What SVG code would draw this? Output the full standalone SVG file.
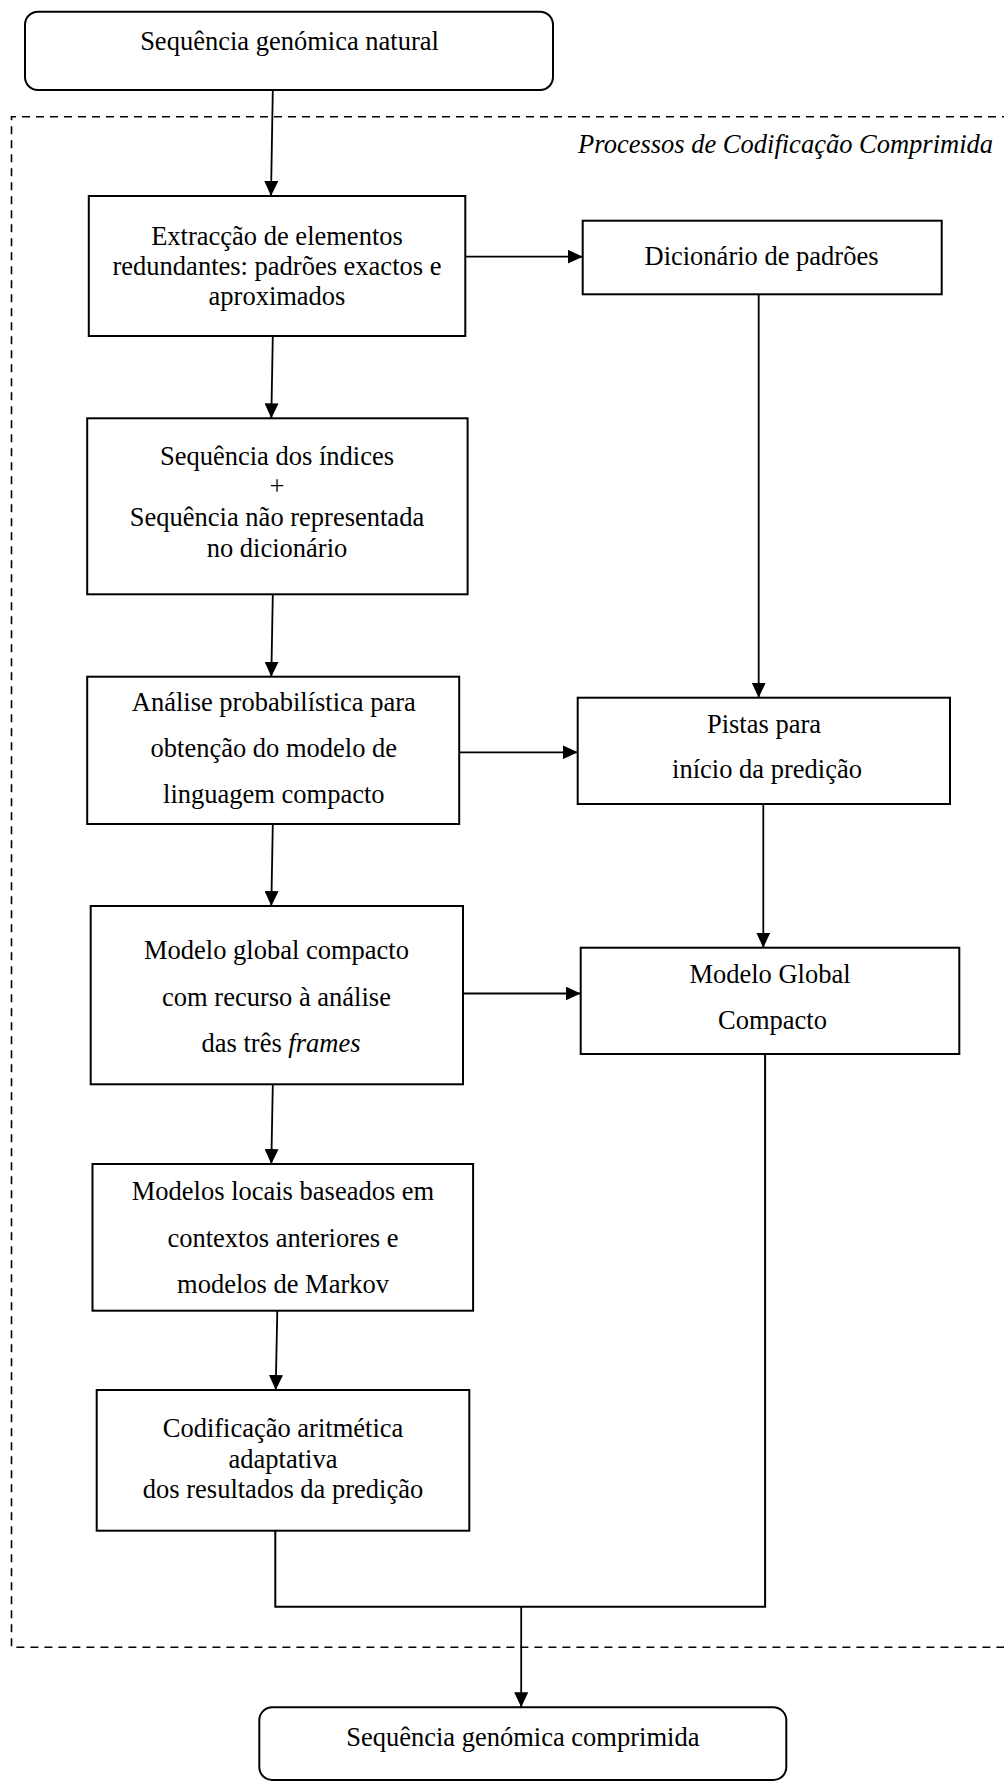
<svg xmlns="http://www.w3.org/2000/svg" width="1004" height="1782" viewBox="0 0 1004 1782">
<style>
  .box { fill: #fff; stroke: #000; stroke-width: 2; }
  .t { font-family: "Liberation Serif", "Times New Roman", serif; font-size: 26.5px; fill: #000; text-anchor: middle; }
  .it { font-style: italic; }
  .c { fill: none; stroke: #000; stroke-width: 1.8; }
  .dash { fill: none; stroke: #000; stroke-width: 1.6; stroke-dasharray: 8 6; }
</style>
<defs>
  <marker id="arr" markerUnits="userSpaceOnUse" markerWidth="15" markerHeight="14" refX="15" refY="7" orient="auto">
    <path d="M0,0 L15,7 L0,14 z" fill="#000"/>
  </marker>
</defs>
<rect width="1004" height="1782" fill="#fff"/>

<g id="group-processos">
  <path class="dash" d="M1010,116.7 H11.5 V1647.3 H1010"/>
  <text class="t it" x="993" y="152.7" style="text-anchor:end">Processos de Codificação Comprimida</text>
</g>

<g id="connectors">
  <line class="c" x1="272.8" y1="90" x2="271" y2="196" marker-end="url(#arr)"/>
  <line class="c" x1="465.3" y1="256.7" x2="582.7" y2="256.7" marker-end="url(#arr)"/>
  <line class="c" x1="758.7" y1="294.3" x2="758.7" y2="697.7" marker-end="url(#arr)"/>
  <line class="c" x1="272.8" y1="336" x2="271.3" y2="418.3" marker-end="url(#arr)"/>
  <line class="c" x1="272.8" y1="594.3" x2="271.3" y2="676.7" marker-end="url(#arr)"/>
  <line class="c" x1="459.2" y1="752.3" x2="577.7" y2="752.3" marker-end="url(#arr)"/>
  <line class="c" x1="763.3" y1="804" x2="763.3" y2="947.7" marker-end="url(#arr)"/>
  <line class="c" x1="272.8" y1="824" x2="271.3" y2="906" marker-end="url(#arr)"/>
  <line class="c" x1="463" y1="993.5" x2="580.7" y2="993.5" marker-end="url(#arr)"/>
  <line class="c" x1="272.8" y1="1084.3" x2="271.3" y2="1164" marker-end="url(#arr)"/>
  <line class="c" x1="277.3" y1="1310.7" x2="275.7" y2="1390" marker-end="url(#arr)"/>
  <polyline class="c" style="stroke-width:2" points="275.3,1530.7 275.3,1606.7 765.1,1606.7 765.1,1054"/>
  <line class="c" x1="521.2" y1="1606.7" x2="521.2" y2="1707.3" marker-end="url(#arr)"/>
</g>

<g id="node-natural">
  <rect class="box" x="25" y="11.7" width="528" height="78.3" rx="13" ry="13"/>
  <text class="t" x="289.5" y="50">Sequência genómica natural</text>
</g>

<g id="node-extraccao">
  <rect class="box" x="88.8" y="196" width="376.5" height="140"/>
  <text class="t" x="277" y="245">Extracção de elementos</text>
  <text class="t" x="277" y="275">redundantes: padrões exactos e</text>
  <text class="t" x="277" y="305">aproximados</text>
</g>

<g id="node-dicionario">
  <rect class="box" x="582.7" y="220.7" width="359" height="73.6"/>
  <text class="t" x="761.5" y="265">Dicionário de padrões</text>
</g>

<g id="node-sequencia-indices">
  <rect class="box" x="87.2" y="418.3" width="380.4" height="176"/>
  <text class="t" x="277" y="465">Sequência dos índices</text>
  <text class="t" x="277" y="495">+</text>
  <text class="t" x="277" y="526">Sequência não representada</text>
  <text class="t" x="277" y="556.7">no dicionário</text>
</g>

<g id="node-analise">
  <rect class="box" x="87.2" y="676.7" width="372" height="147.3"/>
  <text class="t" x="273.8" y="710.7">Análise probabilística para</text>
  <text class="t" x="273.8" y="757.3">obtenção do modelo de</text>
  <text class="t" x="273.8" y="803.3">linguagem compacto</text>
</g>

<g id="node-pistas">
  <rect class="box" x="577.7" y="697.7" width="372.3" height="106.3"/>
  <text class="t" x="764" y="732.7">Pistas para</text>
  <text class="t" x="767" y="778.3">início da predição</text>
</g>

<g id="node-modelo-global-compacto">
  <rect class="box" x="90.7" y="906" width="372.3" height="178.3"/>
  <text class="t" x="276.5" y="959.3">Modelo global compacto</text>
  <text class="t" x="276.5" y="1005.7">com recurso à análise</text>
  <text class="t" x="281" y="1051.7">das três <tspan class="it">frames</tspan></text>
</g>

<g id="node-modelo-global">
  <rect class="box" x="580.7" y="947.7" width="378.6" height="106.3"/>
  <text class="t" x="770" y="982.7">Modelo Global</text>
  <text class="t" x="772.5" y="1029">Compacto</text>
</g>

<g id="node-modelos-locais">
  <rect class="box" x="92.5" y="1164" width="380.6" height="146.7"/>
  <text class="t" x="283" y="1200">Modelos locais baseados em</text>
  <text class="t" x="283" y="1246.7">contextos anteriores e</text>
  <text class="t" x="283" y="1293.3">modelos de Markov</text>
</g>

<g id="node-codificacao">
  <rect class="box" x="96.7" y="1390" width="372.6" height="140.7"/>
  <text class="t" x="283" y="1436.7">Codificação aritmética</text>
  <text class="t" x="283" y="1468.3">adaptativa</text>
  <text class="t" x="283" y="1498.3">dos resultados da predição</text>
</g>

<g id="node-comprimida">
  <rect class="box" x="259.3" y="1707.3" width="527" height="72.7" rx="13" ry="13"/>
  <text class="t" x="522.8" y="1746">Sequência genómica comprimida</text>
</g>
</svg>
